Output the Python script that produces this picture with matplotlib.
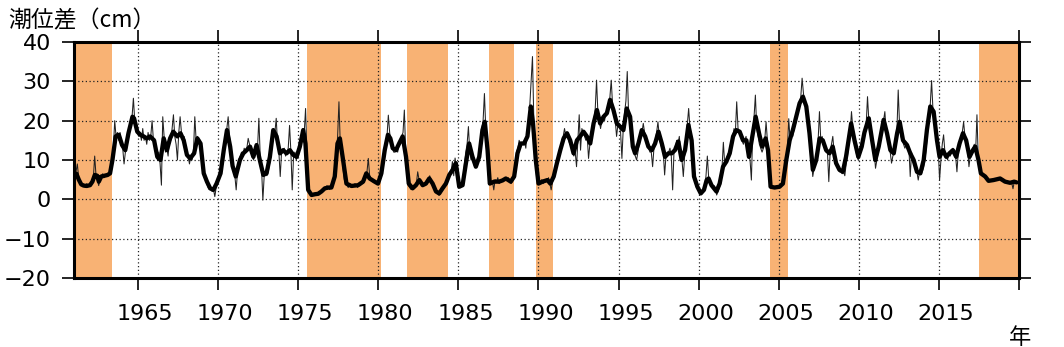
import numpy as np
import matplotlib
matplotlib.use("Agg")
import matplotlib.pyplot as plt
import matplotlib.transforms as mtransforms

# ---------------- data ----------------
band_start = [1961.0, 1975.54, 1981.81, 1986.88, 1989.87, 2004.43, 2017.49]
band_end = [1963.39, 1980.17, 1984.36, 1988.50, 1990.89, 2005.55, 2020.0]

monthly_1960s = [
    6.5, 7, 9, 5.5, 4.5, 4, 3.5, 3.5, 3, 4, 3.5, 3.8,
    3.5, 4, 5.5, 11, 6, 5, 3.5, 5, 6, 6.5, 5.5, 6,
    6, 6.5, 6.5, 7, 9, 13, 20, 16, 17, 15, 17, 14,
    13, 9, 12, 13, 15, 17, 19, 21, 25.7, 20, 18, 17,
    16, 17, 15, 18, 15, 16, 14, 17, 15, 16, 20, 15,
    14, 13, 10, 12, 9, 3.6, 21, 16, 12, 13, 11, 15,
    15, 18, 21.5, 16, 14, 10, 17, 21, 17, 15, 16, 14,
    12, 11, 9, 11, 10, 12, 21, 15, 16, 14, 15, 12,
    8, 6, 5, 4, 3, 2.5, 3, 2, 2.5, 0.7, 3, 5,
]
monthly_1970s = [
    5, 6, 7.5, 10, 12, 15, 18, 21, 16, 13, 9, 7,
    6, 2.4, 7, 10, 11, 12, 11, 13, 12, 13, 15.5, 14,
    12, 11, 10, 12, 14, 13, 20.6, 11, 8, -0.2, 6, 7,
    6, 7, 9, 12, 16, 18, 17, 20.6, 14, 12, 5.8, 12,
    12, 13, 11, 12, 13, 18.8, 12, 2.4, 11, 12, 10, 11,
    12, 14, 16, 18, 17, 23.1, 12, 3, 2, 1, 1.5, 1,
    1.5, 1, 1.5, 2, 1.5, 2, 2.5, 3, 2.5, 3.5, 3, 2.5,
    3, 3.5, 4, 7, 11, 16, 24.8, 14, 12, 8, 5, 4,
    3.5, 3, 4, 3.5, 3, 3.5, 4, 3.5, 3, 4, 3.5, 4,
    4, 4.5, 6, 7, 10.4, 6, 5, 4.5, 4.5, 4.5, 4, 4,
]
monthly_1980s = [
    4, 5, 6, 8, 11, 14, 16, 21.4, 17, 14, 13, 12,
    12, 13, 12, 14, 15, 16, 17, 22.7, 12, 6, 3.5, 3,
    2.5, 3, 2.8, 3.5, 4, 7, 5, 4, 3.5, 3.5, 4, 4,
    4, 5, 6, 5, 4, 3, 2.5, 2, 1.5, 1, 1.5, 2,
    2.5, 3, 4, 4.5, 6, 6, 7, 9.6, 6, 10.5, 8, 6,
    3, 3, 4, 5, 9, 12, 14, 18.5, 12, 10, 11, 9,
    8, 8.5, 10, 12, 15, 18, 20, 26.9, 18, 12, 6, 4,
    4, 4.5, 2.4, 5, 4.5, 5.5, 4, 4.5, 5, 4.5, 5, 5.5,
    5, 5.5, 4.5, 4, 5, 6, 8, 12, 13, 15, 14, 14,
    14, 15, 13, 17, 16, 24, 30, 36.3, 20, 12, 6, 4,
]
monthly_1990s = [
    4, 4.5, 5, 4, 4.5, 5, 4.5, 5.5, 4, 2.4, 4.5, 5.5,
    7, 9, 10, 12, 13, 15, 16, 18, 16, 17, 15, 14,
    14, 12, 11, 12, 8.3, 15, 21.5, 12.5, 18, 17, 16, 15,
    16, 10.4, 14, 15, 18, 20, 23, 30.3, 22, 20, 18, 20,
    21, 20, 22, 23, 24, 26, 30.3, 24, 22, 20, 16, 19,
    19, 17, 10.4, 18, 22, 25, 32.5, 22, 20, 16, 13, 12,
    11, 10, 12, 14, 16, 17, 19.3, 17, 15, 14, 13, 12,
    12, 8.3, 13, 15, 17, 19.7, 16, 14, 13, 12, 6.2, 11,
    11, 12, 13, 11, 2.4, 12, 13, 15, 14, 16, 12, 10,
    5.8, 11, 14, 19, 23.1, 18, 14, 10, 6, 4, 3, 3,
]
monthly_2000s = [
    2, 1.5, 1.5, 2.5, 3, 6, 11, 5.5, 4, 3.5, 3, 3.5,
    3, 1.1, 2, 3, 4, 8, 14.5, 9, 10, 11, 12, 12,
    14, 16, 18, 17, 24.8, 18, 17, 16, 15, 14, 15, 16,
    13, 11, 10, 4.9, 17, 21, 26.5, 18, 16, 14, 13, 12,
    13, 15, 19.7, 15, 12, 5, 3, 3.2, 3, 3, 2.8, 3.2,
    3, 3.5, 3.5, 4, 6, 10, 13, 20.5, 15, 17, 16, 18,
    19, 21, 23, 24, 26, 30.8, 27, 24, 23, 20, 17, 14,
    10, 5.8, 8, 10, 12, 15, 22.3, 15, 16, 14, 13, 12,
    12, 4.5, 12, 14, 16, 12, 10, 9, 8, 7, 7.5, 6.5,
    7, 6, 9, 11, 14, 17, 22.3, 18, 15, 13, 11, 10,
]
monthly_2010s = [
    11, 12, 14, 16, 18, 19, 26.1, 20, 18, 15, 14, 12,
    7.9, 10, 12, 14, 17, 19, 20, 22.3, 17, 16, 14, 12,
    9.2, 11, 12, 14, 17, 27.8, 19, 16, 15, 14, 13, 14,
    14, 13, 5.8, 12, 10, 9, 8, 7, 4.9, 7, 6.5, 7,
    8, 10, 13, 17, 20, 24, 30.2, 23, 22, 18, 15, 13,
    4.9, 10, 14, 16.4, 12, 11, 10, 12, 11, 12, 13, 12,
    11, 7, 12, 14, 16, 17, 19.7, 16, 14, 13, 8.3, 11,
    12, 13, 14, 12, 21.5, 10, 8, 7, 6.5, 6, 5.5, 5.5,
    5, 4.5, 4.7, 5, 5, 4.8, 5, 5.2, 5.3, 5.5, 5.2, 5,
    4.8, 4.5, 4.3, 4.2, 4.5, 4, 4.2, 2.7, 4.5, 4.3, 4.5, 4.2,
]
monthly_first_year = 1961

smooth_years = [
    1961.0, 1961.15, 1961.3, 1961.45, 1961.6, 1961.8, 1962.0, 1962.15, 1962.3, 1962.45,
    1962.55, 1962.7, 1962.9, 1963.1, 1963.25, 1963.4, 1963.6, 1963.8, 1964.0, 1964.2,
    1964.4, 1964.65, 1964.75, 1964.95, 1965.15, 1965.35, 1965.55, 1965.75, 1966.0, 1966.2,
    1966.4, 1966.6, 1966.8, 1967.0, 1967.2, 1967.45, 1967.65, 1967.85, 1968.05, 1968.25,
    1968.5, 1968.7, 1968.9, 1969.1, 1969.3, 1969.5, 1969.7, 1969.9, 1970.15, 1970.35,
    1970.55, 1970.75, 1970.9, 1971.1, 1971.36, 1971.57, 1971.78, 1971.99, 1972.2, 1972.4,
    1972.6, 1972.82, 1973.02, 1973.23, 1973.44, 1973.65, 1973.86, 1974.06, 1974.27, 1974.48,
    1974.69, 1974.9, 1975.1, 1975.31, 1975.45, 1975.62, 1975.83, 1976.05, 1976.24, 1976.45,
    1976.66, 1976.9, 1977.07, 1977.28, 1977.45, 1977.6, 1977.8, 1978.01, 1978.32, 1978.55,
    1978.74, 1979.05, 1979.25, 1979.46, 1979.77, 1979.98, 1980.19, 1980.4, 1980.6, 1980.75,
    1980.9, 1981.1, 1981.3, 1981.52, 1981.73, 1981.9, 1982.14, 1982.35, 1982.56, 1982.77,
    1982.97, 1983.18, 1983.39, 1983.6, 1983.8, 1984.01, 1984.22, 1984.43, 1984.64, 1984.84,
    1985.05, 1985.26, 1985.47, 1985.67, 1985.88, 1986.09, 1986.3, 1986.5, 1986.65, 1986.82,
    1986.96, 1987.23, 1987.54, 1987.75, 1987.96, 1988.27, 1988.48, 1988.69, 1988.89, 1989.1,
    1989.31, 1989.52, 1989.66, 1989.83, 1990.0, 1990.25, 1990.56, 1990.74, 1990.95, 1991.15,
    1991.36, 1991.57, 1991.78, 1991.98, 1992.19, 1992.4, 1992.6, 1992.81, 1993.02, 1993.23,
    1993.44, 1993.65, 1993.85, 1994.06, 1994.27, 1994.47, 1994.68, 1994.89, 1995.1, 1995.3,
    1995.51, 1995.72, 1995.89, 1996.03, 1996.24, 1996.45, 1996.66, 1996.86, 1997.07, 1997.28,
    1997.49, 1997.7, 1997.9, 1998.11, 1998.32, 1998.52, 1998.73, 1998.94, 1999.15, 1999.36,
    1999.56, 1999.71, 1999.92, 2000.13, 2000.33, 2000.5, 2000.62, 2000.8, 2001.11, 2001.31,
    2001.52, 2001.73, 2001.94, 2002.15, 2002.35, 2002.56, 2002.77, 2002.98, 2003.14, 2003.35,
    2003.56, 2003.77, 2003.97, 2004.18, 2004.33, 2004.49, 2004.74, 2005.05, 2005.26, 2005.47,
    2005.68, 2005.88, 2006.09, 2006.3, 2006.51, 2006.72, 2006.92, 2007.13, 2007.34, 2007.55,
    2007.75, 2007.96, 2008.17, 2008.37, 2008.58, 2008.79, 2009.0, 2009.2, 2009.52, 2009.73,
    2009.97, 2010.18, 2010.35, 2010.62, 2010.83, 2011.03, 2011.24, 2011.55, 2011.76, 2011.97,
    2012.18, 2012.39, 2012.55, 2012.76, 2013.01, 2013.21, 2013.42, 2013.63, 2013.84, 2014.05,
    2014.25, 2014.46, 2014.67, 2014.88, 2015.04, 2015.25, 2015.46, 2015.66, 2015.87, 2016.08,
    2016.29, 2016.5, 2016.7, 2016.91, 2017.12, 2017.27, 2017.47, 2017.62, 2017.89, 2018.1,
    2018.41, 2018.82, 2019.13, 2019.44, 2019.7, 2019.85,
]
smooth_values = [
    6.6, 6.5, 5, 3.8, 3.5, 3.4, 3.6, 4.5, 6.2, 6.0,
    4.5, 5.8, 6.0, 6.2, 6.6, 10, 16, 16.4, 13.8, 12.5,
    16.8, 21, 20.6, 17.2, 16.4, 16, 15.5, 16, 15, 10.8,
    10, 15.5, 12.5, 15.5, 17.2, 16, 16.8, 15, 11.3, 10.4,
    11.7, 15.5, 14.2, 6.6, 4.5, 2.8, 2.4, 4, 6.6, 12.5,
    17.6, 13.4, 8.5, 5.8, 10, 11.7, 12.5, 13.4, 10.8, 13.8,
    10, 6.2, 6.6, 10.8, 17.6, 16, 11.7, 12.5, 11.7, 12.5,
    11.3, 10.8, 13.4, 17.6, 14.2, 2.4, 1.1, 1.3, 1.4, 2,
    2.8, 3, 3, 5.8, 14.2, 15.5, 10, 4, 3.4, 3.5,
    3.6, 4.5, 6.6, 5.3, 4.5, 4, 6.6, 12.5, 16.4, 15.5,
    13, 12.5, 14.2, 16, 10.8, 4, 2.8, 3.6, 4.9, 3.6,
    4, 5.3, 4, 2, 1.5, 2.8, 4, 6.2, 7.5, 9.2,
    3.2, 3.6, 9.2, 14.2, 10.8, 8.3, 10.8, 17.6, 19.7, 12.5,
    4, 4.5, 4.5, 4.8, 5.3, 4.5, 5.8, 11.7, 14.2, 14.2,
    16, 23.6, 19.3, 10, 4, 4.5, 4.9, 4, 5.8, 9.2,
    12.5, 15.5, 16.8, 15, 11.7, 15, 16, 17.2, 16, 14.2,
    19.3, 22.7, 19.3, 21, 21.9, 25.3, 22.7, 19.3, 18.5, 17.6,
    23.1, 21, 13.4, 11.7, 14.2, 17.6, 16, 13.4, 12.5, 14.2,
    17.2, 14.2, 10.8, 11.7, 11.7, 12.5, 14.7, 10, 12.5, 18.9,
    15, 5.8, 3.2, 1.5, 2.4, 4.9, 5.3, 3.6, 2, 4,
    8.3, 9.6, 11.7, 16, 17.6, 17.2, 15, 15, 10.8, 16,
    21, 16.8, 13.4, 15.5, 12.5, 3.2, 3, 3.2, 4, 10,
    15, 17.6, 21, 24.4, 26.1, 23.6, 16.8, 7.5, 10, 15.5,
    15, 12.5, 11.7, 13.4, 9.2, 7.5, 7, 10.8, 19.3, 15,
    10.8, 13.4, 17, 20.6, 15, 10, 13.4, 20.2, 16.8, 12.5,
    11.7, 16.8, 19.7, 15, 13.8, 11.7, 10, 7, 6.6, 10,
    17.6, 23.6, 22.3, 15, 10.8, 12.5, 10.8, 11.7, 12.5, 10.8,
    14.2, 16.8, 15, 10.8, 12.5, 13.4, 10, 6.6, 5.8, 4.7,
    4.9, 5.3, 4.5, 4.2, 4.5, 4.3,
]

x_ticks = [1965, 1970, 1975, 1980, 1985, 1990, 1995, 2000, 2005, 2010, 2015, 2020]
x_tick_labels = ["1965", "1970", "1975", "1980", "1985", "1990", "1995",
                 "2000", "2005", "2010", "2015", ""]
y_ticks = [-20, -10, 0, 10, 20, 30, 40]
x_grid = [1965, 1970, 1975, 1980, 1985, 1990, 1995, 2000, 2005, 2010, 2015]
y_grid = [-10, 0, 10, 20, 30]
y_label = "潮位差（cm）"
x_label = "年"

# ---------------- figure ----------------
plt.rcParams['font.family'] = ['DejaVu Sans']
cjk = ['Noto Sans CJK JP', 'DejaVu Sans']

monthly = np.array(monthly_1960s + monthly_1970s + monthly_1980s +
                   monthly_1990s + monthly_2000s + monthly_2010s, dtype=float)
monthly_t = monthly_first_year + (np.arange(len(monthly)) + 0.5) / 12.0

fig = plt.figure(figsize=(10.64, 3.47), dpi=100)
ax = fig.add_axes([74 / 1064, 69 / 347, 945 / 1064, 236 / 347])

for s, e in zip(band_start, band_end):
    ax.axvspan(s, e, color='#f8b274', lw=0, zorder=0)

for g in x_grid:
    ax.axvline(g, color='#222222', lw=0.9, ls=(0, (1, 2)), zorder=1)
for g in y_grid:
    ax.axhline(g, color='#222222', lw=0.9, ls=(0, (1, 2)), zorder=1)

ax.plot(monthly_t, monthly, color='#222222', lw=0.75, zorder=2)
ax.plot(smooth_years, smooth_values, color='black', lw=3.1, zorder=3,
        solid_joinstyle='round', solid_capstyle='round')

ax.set_xlim(1961, 2020)
ax.set_ylim(-20, 40)
ax.set_xticks(x_ticks)
ax.set_xticklabels(x_tick_labels)
ax.set_yticks(y_ticks)
ax.tick_params(axis='both', direction='out', length=8.6, width=1.2,
               labelsize=16, color='black')
ax.tick_params(axis='x', top=True, pad=10)
ax.tick_params(axis='y', right=True, pad=8)
for sp in ax.spines.values():
    sp.set_linewidth(2.2)
    sp.set_zorder(5)

# x tick labels sit slightly right of their ticks in the original
shift = mtransforms.ScaledTranslation(7 / 100, 0, fig.dpi_scale_trans)
for lab in ax.get_xticklabels():
    lab.set_transform(lab.get_transform() + shift)

fig.text(8 / 1064, 1 - 21 / 347, y_label, family=cjk, fontsize=16.5,
         ha='left', va='center')
fig.text(1020 / 1064, 1 - 337 / 347, x_label, family=cjk, fontsize=16,
         ha='center', va='center')

fig.savefig('out.png', dpi=100)
